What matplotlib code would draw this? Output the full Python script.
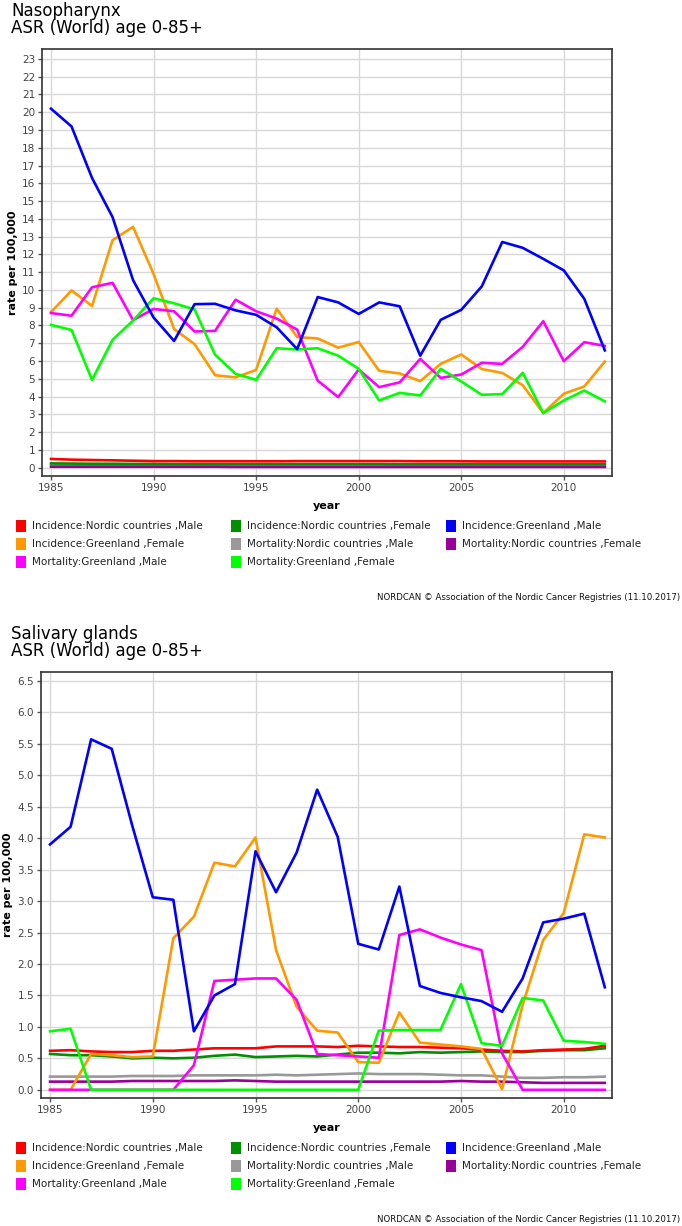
import matplotlib
matplotlib.use("Agg")
import matplotlib.pyplot as plt
import numpy as np
from matplotlib.patches import Rectangle

years = list(range(1985, 2013))

series_names = [
  "Incidence:Nordic countries ,Male",
  "Incidence:Nordic countries ,Female",
  "Incidence:Greenland ,Male",
  "Incidence:Greenland ,Female",
  "Mortality:Nordic countries ,Male",
  "Mortality:Nordic countries ,Female",
  "Mortality:Greenland ,Male",
  "Mortality:Greenland ,Female",
]
series_colors = ["#ff0000", "#009000", "#0000ff", "#ff9900",
                 "#999999", "#990099", "#ff00ff", "#00ff00"]

# Nasopharynx
naso_inc_nordic_m = [0.49, 0.45, 0.43, 0.41, 0.39, 0.37, 0.37, 0.36, 0.36, 0.36, 0.36, 0.36, 0.37, 0.37,
                     0.37, 0.37, 0.37, 0.37, 0.36, 0.36, 0.36, 0.35, 0.35, 0.35, 0.35, 0.35, 0.35, 0.35]
naso_inc_nordic_f = [0.24, 0.23, 0.22, 0.22, 0.21, 0.21, 0.2, 0.2, 0.2, 0.2, 0.2, 0.2, 0.2, 0.2,
                     0.2, 0.2, 0.2, 0.19, 0.19, 0.19, 0.19, 0.19, 0.19, 0.19, 0.19, 0.19, 0.19, 0.19]
naso_inc_gl_m = [20.2, 19.2, 16.3, 14.1, 10.55, 8.45, 7.13, 9.2, 9.22, 8.85, 8.6, 7.9, 6.67, 9.6,
                 9.3, 8.65, 9.3, 9.08, 6.3, 8.32, 8.88, 10.2, 12.7, 12.37, 11.75, 11.1, 9.5, 6.6]
naso_inc_gl_f = [8.75, 9.97, 9.1, 12.8, 13.55, 10.9, 7.8, 6.95, 5.2, 5.08, 5.5, 8.95, 7.35, 7.27,
                 6.75, 7.07, 5.45, 5.3, 4.87, 5.84, 6.37, 5.55, 5.33, 4.64, 3.07, 4.16, 4.57, 5.97]
naso_mort_nordic_m = [0.15, 0.15, 0.14, 0.14, 0.14, 0.13, 0.13, 0.13, 0.13, 0.13, 0.13, 0.13, 0.13, 0.13,
                      0.12, 0.12, 0.12, 0.12, 0.12, 0.12, 0.12, 0.11, 0.11, 0.11, 0.11, 0.11, 0.11, 0.11]
naso_mort_nordic_f = [0.05, 0.05, 0.05, 0.05, 0.05, 0.05, 0.05, 0.05, 0.05, 0.04, 0.04, 0.04, 0.04, 0.04,
                      0.04, 0.04, 0.04, 0.04, 0.04, 0.04, 0.04, 0.04, 0.04, 0.04, 0.04, 0.04, 0.04, 0.04]
naso_mort_gl_m = [8.7, 8.55, 10.15, 10.4, 8.3, 8.93, 8.8, 7.66, 7.7, 9.45, 8.8, 8.39, 7.77, 4.9,
                  3.97, 5.52, 4.53, 4.8, 6.12, 5.05, 5.24, 5.9, 5.84, 6.8, 8.24, 5.99, 7.06, 6.85]
naso_mort_gl_f = [8.03, 7.75, 4.94, 7.19, 8.28, 9.53, 9.25, 8.9, 6.35, 5.28, 4.94, 6.72, 6.65, 6.72,
                  6.3, 5.56, 3.78, 4.21, 4.06, 5.56, 4.85, 4.1, 4.14, 5.34, 3.07, 3.78, 4.34, 3.73]

# Salivary glands
sal_inc_nordic_m = [0.62, 0.63, 0.61, 0.6, 0.6, 0.62, 0.62, 0.64, 0.66, 0.66, 0.66, 0.69, 0.69, 0.69,
                    0.68, 0.7, 0.69, 0.68, 0.68, 0.67, 0.66, 0.64, 0.62, 0.61, 0.63, 0.64, 0.65, 0.7]
sal_inc_nordic_f = [0.57, 0.55, 0.55, 0.53, 0.5, 0.51, 0.5, 0.51, 0.54, 0.56, 0.52, 0.53, 0.54, 0.53,
                    0.56, 0.59, 0.59, 0.58, 0.6, 0.59, 0.6, 0.61, 0.6, 0.6, 0.62, 0.63, 0.63, 0.66]
sal_inc_gl_m = [3.9, 4.18, 5.57, 5.42, 4.2, 3.06, 3.02, 0.93, 1.5, 1.68, 3.79, 3.14, 3.77, 4.77,
                4.02, 2.32, 2.23, 3.23, 1.65, 1.54, 1.47, 1.41, 1.24, 1.77, 2.66, 2.72, 2.8, 1.63]
sal_inc_gl_f = [0.0, 0.0, 0.57, 0.55, 0.52, 0.53, 2.41, 2.75, 3.61, 3.55, 4.01, 2.22, 1.32, 0.94,
                0.91, 0.44, 0.43, 1.23, 0.75, 0.72, 0.69, 0.65, 0.01, 1.35, 2.38, 2.81, 4.06, 4.01]
sal_mort_nordic_m = [0.21, 0.21, 0.21, 0.21, 0.22, 0.22, 0.22, 0.23, 0.23, 0.23, 0.23, 0.24, 0.23, 0.24,
                     0.25, 0.26, 0.25, 0.25, 0.25, 0.24, 0.23, 0.23, 0.21, 0.19, 0.19, 0.2, 0.2, 0.21]
sal_mort_nordic_f = [0.13, 0.13, 0.13, 0.13, 0.14, 0.14, 0.14, 0.14, 0.14, 0.15, 0.14, 0.13, 0.13, 0.13,
                     0.13, 0.13, 0.13, 0.13, 0.13, 0.13, 0.14, 0.13, 0.13, 0.12, 0.11, 0.11, 0.11, 0.11]
sal_mort_gl_m = [0.0, 0.0, 0.0, 0.0, 0.0, 0.0, 0.0, 0.39, 1.73, 1.75, 1.77, 1.77, 1.43, 0.57,
                 0.55, 0.53, 0.51, 2.46, 2.55, 2.42, 2.31, 2.22, 0.58, 0.0, 0.0, 0.0, 0.0, 0.0]
sal_mort_gl_f = [0.93, 0.97, 0.0, 0.0, 0.0, 0.0, 0.0, 0.0, 0.0, 0.0, 0.0, 0.0, 0.0, 0.0,
                 0.0, 0.0, 0.94, 0.95, 0.95, 0.95, 1.68, 0.74, 0.7, 1.46, 1.42, 0.78, 0.76, 0.73]

naso_series = [naso_inc_nordic_m, naso_inc_nordic_f, naso_inc_gl_m, naso_inc_gl_f,
               naso_mort_nordic_m, naso_mort_nordic_f, naso_mort_gl_m, naso_mort_gl_f]
sal_series = [sal_inc_nordic_m, sal_inc_nordic_f, sal_inc_gl_m, sal_inc_gl_f,
              sal_mort_nordic_m, sal_mort_nordic_f, sal_mort_gl_m, sal_mort_gl_f]

W, H = 682, 1226
plt.rcParams["font.family"] = ["DejaVu Sans"]
fig = plt.figure(figsize=(W / 100, H / 100), dpi=100)


def fx(px):
  return px / W


def fy(py):
  return 1 - py / H


def draw_panel(series, title, top, bottom, left, right, ylim, yticks, ytick_labels):
  ax = fig.add_axes([fx(left), fy(bottom), fx(right - left), fy(top) - fy(bottom)])
  # nordic lines underneath, greenland on top
  order = [4, 5, 1, 0, 3, 6, 7, 2]
  for i in order:
    ax.plot(years, series[i], color=series_colors[i], lw=1.9)
  ax.set_xlim(1984.56, 2012.35)
  ax.set_ylim(*ylim)
  ax.set_xticks([1985, 1990, 1995, 2000, 2005, 2010])
  ax.set_yticks(yticks)
  ax.set_yticklabels(ytick_labels)
  ax.grid(True, color="#d8d8d8", lw=1.0)
  ax.set_axisbelow(True)
  for s in ax.spines.values():
    s.set_color("#333333")
    s.set_linewidth(1.2)
  ax.tick_params(axis="both", labelsize=7.5, labelcolor="#444444", color="#555555",
                 length=3, width=1, pad=2)
  ax.set_xlabel("year", fontsize=8, fontweight="bold", labelpad=6)
  ax.set_ylabel("rate per 100,000", fontsize=8, fontweight="bold", labelpad=3)
  fig.text(fx(11), fy(top - 33), title, fontsize=12, va="baseline", ha="left")
  fig.text(fx(11), fy(top - 16), "ASR (World) age 0-85+", fontsize=12, va="baseline", ha="left")

  # legend
  col_x = [16, 231, 446]
  row_y0 = bottom + 50
  for i, name in enumerate(series_names):
    r, c = divmod(i, 3)
    yy = row_y0 + r * 18
    fig.patches.append(Rectangle((fx(col_x[c]), fy(yy + 6)), fx(10), fy(yy - 6) - fy(yy + 6),
                                 transform=fig.transFigure, facecolor=series_colors[i],
                                 edgecolor="none"))
    fig.text(fx(col_x[c] + 16), fy(yy), name, fontsize=7.5, va="center", ha="left",
             color="#222222")
  fig.text(fx(680), fy(bottom + 122), "NORDCAN \u00a9 Association of the Nordic Cancer Registries (11.10.2017)",
           fontsize=6.2, ha="right", va="center", color="#111111")
  return ax


draw_panel(naso_series, "Nasopharynx", 49, 476, 42, 612, (-0.47, 23.56),
           list(range(0, 24)), [str(v) for v in range(0, 24)])
sal_ticks = [v / 2 for v in range(0, 14)]
draw_panel(sal_series, "Salivary glands", 672, 1098, 41, 612, (-0.13, 6.64),
           sal_ticks, ["%.1f" % v for v in sal_ticks])

fig.savefig("out.png", dpi=100)
